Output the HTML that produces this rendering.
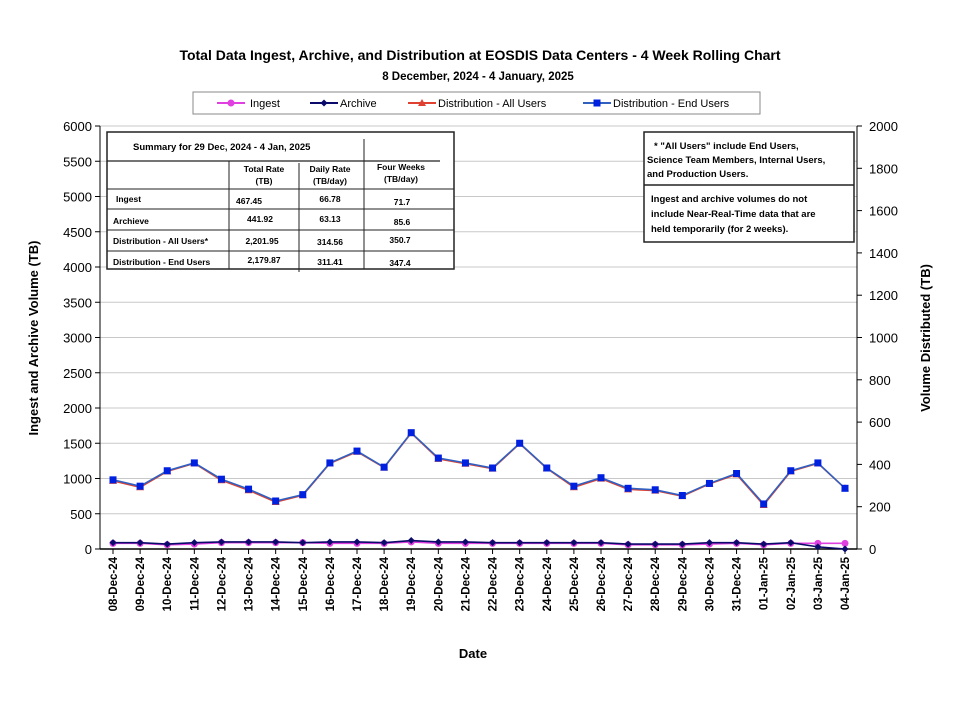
<!DOCTYPE html>
<html><head><meta charset="utf-8"><style>
body{margin:0;background:#fff;font-family:"Liberation Sans",sans-serif}
svg text{font-family:"Liberation Sans",sans-serif}
</style></head><body>
<svg id="c" width="955" height="713" xmlns="http://www.w3.org/2000/svg">
<text x="480" y="60" text-anchor="middle" font-size="14" font-weight="bold">Total Data Ingest, Archive, and  Distribution at EOSDIS Data Centers - 4 Week Rolling Chart</text>
<text x="478" y="80" text-anchor="middle" font-size="11.5" font-weight="bold">8  December,  2024  -  4  January, 2025</text>
<g>
<rect x="193" y="92" width="567" height="22" fill="#fff" stroke="#888"/>
<g><line x1="217" y1="103" x2="245" y2="103" stroke="#e040e0" stroke-width="2"/><circle cx="231" cy="103" r="3.5" fill="#e040e0"/><text x="250" y="107" font-size="11">Ingest</text></g>
<g><line x1="310" y1="103" x2="338" y2="103" stroke="#0a0a6a" stroke-width="2"/><path d="M324 99.5 L327.5 103 L324 106.5 L320.5 103Z" fill="#0a0a6a"/><text x="340" y="107" font-size="11">Archive</text></g>
<g><line x1="408" y1="103" x2="436" y2="103" stroke="#e04030" stroke-width="2"/><path d="M422 99 L426 106 L418 106Z" fill="#e04030"/><text x="438" y="107" font-size="11">Distribution - All Users</text></g>
<g><line x1="583" y1="103" x2="611" y2="103" stroke="#3060c0" stroke-width="2"/><rect x="593.5" y="99.5" width="7" height="7" fill="#0020e0"/><text x="613" y="107" font-size="11">Distribution - End Users</text></g>
</g>
<g id="grid"></g>
<g id="axes"></g>
<g id="series"></g>
<g font-size="9.5" font-weight="bold">
<rect x="107" y="132" width="347" height="137" fill="#fff" stroke="#222" stroke-width="1.5"/>
<text x="133" y="150" font-size="9.5">Summary  for  29  Dec,  2024  -  4  Jan,  2025</text>
<line x1="364" y1="139" x2="364" y2="160" stroke="#222"/>
<line x1="107" y1="161" x2="440" y2="161" stroke="#222" stroke-width="1.2"/>
<line x1="229" y1="161" x2="229" y2="269" stroke="#222"/>
<line x1="299" y1="163" x2="299" y2="272" stroke="#222"/>
<line x1="364" y1="160" x2="364" y2="269" stroke="#222"/>
<text x="264" y="172" text-anchor="middle" font-size="8.5">Total Rate</text><text x="264" y="184" text-anchor="middle" font-size="8.5">(TB)</text>
<text x="330" y="172" text-anchor="middle" font-size="8.5">Daily Rate</text><text x="330" y="184" text-anchor="middle" font-size="8.5">(TB/day)</text>
<text x="401" y="170" text-anchor="middle" font-size="8.5">Four Weeks</text><text x="401" y="182" text-anchor="middle" font-size="8.5">(TB/day)</text>
<line x1="107" y1="189" x2="454" y2="189" stroke="#222"/>
<line x1="107" y1="209" x2="454" y2="209" stroke="#222"/>
<line x1="107" y1="230" x2="454" y2="230" stroke="#222"/>
<line x1="107" y1="251" x2="454" y2="251" stroke="#222"/>
<text x="116" y="202" font-size="8.5">Ingest</text><text x="236" y="204" font-size="8.5">467.45</text><text x="330" y="202" text-anchor="middle" font-size="8.5">66.78</text><text x="402" y="205" text-anchor="middle" font-size="8.5">71.7</text>
<text x="113" y="224" font-size="8.5">Archieve</text><text x="260" y="222" text-anchor="middle" font-size="8.5">441.92</text><text x="330" y="222" text-anchor="middle" font-size="8.5">63.13</text><text x="402" y="225" text-anchor="middle" font-size="8.5">85.6</text>
<text x="113" y="244" font-size="8.5">Distribution - All Users*</text><text x="262" y="244" text-anchor="middle" font-size="8.5">2,201.95</text><text x="330" y="245" text-anchor="middle" font-size="8.5">314.56</text><text x="400" y="243" text-anchor="middle" font-size="8.5">350.7</text>
<text x="113" y="265" font-size="8.5">Distribution - End Users</text><text x="264" y="263" text-anchor="middle" font-size="8.5">2,179.87</text><text x="330" y="265" text-anchor="middle" font-size="8.5">311.41</text><text x="400" y="266" text-anchor="middle" font-size="8.5">347.4</text>
</g>
<g font-size="9.5" font-weight="bold">
<rect x="644" y="132" width="210" height="110" fill="#fff" stroke="#222" stroke-width="1.5"/>
<text x="654" y="149">* "All Users" include End Users,</text>
<text x="647" y="163">Science Team Members,  Internal Users,</text>
<text x="647" y="177">and Production Users.</text>
<line x1="644" y1="185" x2="854" y2="185" stroke="#222" stroke-width="1.5"/>
<text x="651" y="202">Ingest and archive volumes do not</text>
<text x="651" y="217">include Near-Real-Time data that are</text>
<text x="651" y="232">held temporarily (for 2 weeks).</text>
</g>
<text transform="translate(38,338) rotate(-90)" text-anchor="middle" font-size="13" font-weight="bold">Ingest and Archive Volume (TB)</text>
<text transform="translate(930,338) rotate(-90)" text-anchor="middle" font-size="13" font-weight="bold">Volume Distributed (TB)</text>
<text x="473" y="658" text-anchor="middle" font-size="13" font-weight="bold">Date</text>
</svg>
<script>
const dates=["08-Dec-24","09-Dec-24","10-Dec-24","11-Dec-24","12-Dec-24","13-Dec-24","14-Dec-24","15-Dec-24","16-Dec-24","17-Dec-24","18-Dec-24","19-Dec-24","20-Dec-24","21-Dec-24","22-Dec-24","23-Dec-24","24-Dec-24","25-Dec-24","26-Dec-24","27-Dec-24","28-Dec-24","29-Dec-24","30-Dec-24","31-Dec-24","01-Jan-25","02-Jan-25","03-Jan-25","04-Jan-25"];
const ingest=[80,80,60,70,90,90,90,90,80,80,80,100,80,80,80,80,80,80,80,60,60,60,70,80,60,80,80,80];
const archive=[90,90,70,90,100,100,100,90,100,100,90,120,100,100,90,90,90,90,90,70,70,70,90,90,70,90,30,0];
const distAll=[322,292,367,405,325,278,222,254,405,460,385,548,426,403,380,498,381,292,333,282,276,250,308,353,208,367,405,287];
const distEnd=[327,297,370,407,330,283,227,257,407,463,387,550,430,407,383,500,383,297,337,287,280,253,310,357,213,370,407,287];
const leftTicks=[0,500,1000,1500,2000,2500,3000,3500,4000,4500,5000,5500,6000];
const rightTicks=[0,200,400,600,800,1000,1200,1400,1600,1800,2000];
const NS="http://www.w3.org/2000/svg";
const X0=100,X1=857,Y0=549,Y1=126;
const xs=i=>113+i*(845-113)/(dates.length-1);
const yL=v=>Y0-(v/6000)*(Y0-Y1);
const yR=v=>Y0-(v/2000)*(Y0-Y1);
function mk(t,a,p){const e=document.createElementNS(NS,t);for(const k in a)e.setAttribute(k,a[k]);p.appendChild(e);return e;}
const grid=document.getElementById('grid'),axes=document.getElementById('axes'),ser=document.getElementById('series');
leftTicks.forEach(v=>{const y=yL(v);
 if(v>0){const g=mk('line',{x1:X0,x2:X1,y1:y,y2:y,stroke:'#c8c8c8','stroke-width':1},grid);}
 mk('line',{x1:X0-5,x2:X0,y1:y,y2:y,stroke:'#000'},axes);
 const t=mk('text',{x:X0-8,y:y+5,'text-anchor':'end','font-size':13},axes);t.textContent=v;
 
 });
rightTicks.forEach(v=>{const y=yR(v);
 mk('line',{x1:X1,x2:X1+5,y1:y,y2:y,stroke:'#000'},axes);
 const t=mk('text',{x:X1+12,y:y+5,'font-size':13},axes);t.textContent=v;
 
 });
mk('line',{x1:X0,x2:X0,y1:Y1,y2:Y0,stroke:'#000'},axes);
mk('line',{x1:X1,x2:X1,y1:Y1,y2:Y0,stroke:'#000'},axes);
mk('line',{x1:X0,x2:X1,y1:Y0,y2:Y0,stroke:'#000','stroke-width':1.5},axes);
dates.forEach((d,i)=>{const x=xs(i);
 mk('line',{x1:x,x2:x,y1:Y0,y2:Y0+5,stroke:'#000'},axes);
 const t=mk('text',{x:0,y:0,transform:`translate(${x+4},${Y0+8}) rotate(-90)`,'text-anchor':'end','font-size':11.5,'font-weight':'bold'},axes);t.textContent=d;
 
 });
function series(vals,yf,color,marker,name){
 const g=mk('g',{},ser);
 
 
 mk('polyline',{points:vals.map((v,i)=>xs(i)+','+yf(v)).join(' '),fill:'none',stroke:color,'stroke-width':1.6},g);
 vals.forEach((v,i)=>{const x=xs(i),y=yf(v);let m;
  if(marker==='c')m=mk('circle',{cx:x,cy:y,r:3.5,fill:color},g);
  else if(marker==='d')m=mk('path',{d:`M${x} ${y-3.5}L${x+3.5} ${y}L${x} ${y+3.5}L${x-3.5} ${y}Z`,fill:color},g);
  else if(marker==='t')m=mk('path',{d:`M${x} ${y-4}L${x+4} ${y+3}L${x-4} ${y+3}Z`,fill:color},g);
  else m=mk('rect',{x:x-3.5,y:y-3.5,width:7,height:7,fill:'#0020e0'},g);
  
  });
}
series(ingest,yL,'#e040e0','c','series-ingest');
series(archive,yL,'#0a0a6a','d','series-archive');
series(distAll,yR,'#e04030','t','series-distribution-all');
series(distEnd,yR,'#3060c0','s','series-distribution-end');
</script>
</body></html>
